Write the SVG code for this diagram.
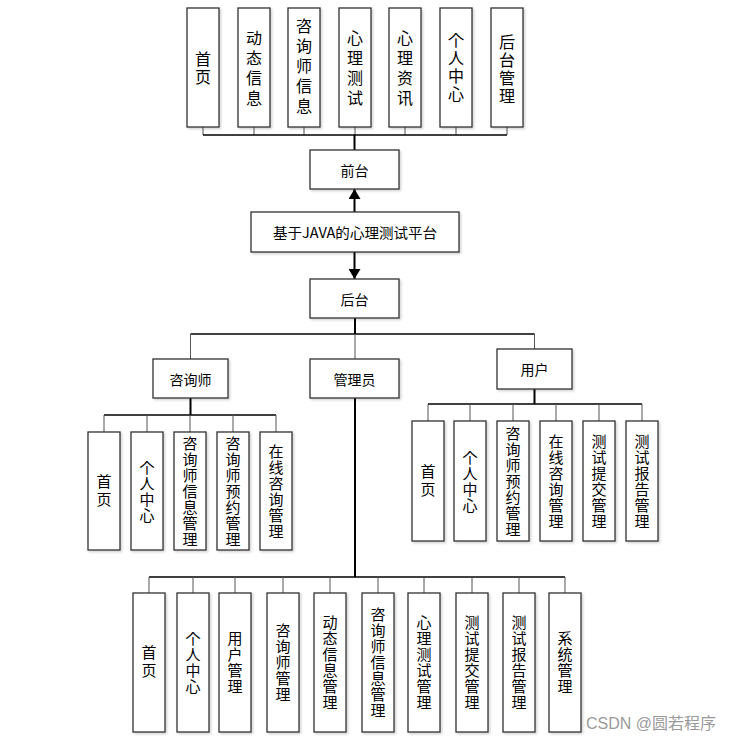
<svg xmlns="http://www.w3.org/2000/svg" width="738" height="741" viewBox="0 0 738 741">
<defs>
<filter id="sh" x="-20%" y="-20%" width="140%" height="140%"><feDropShadow dx="1.5" dy="1.5" stdDeviation="1" flood-color="#000" flood-opacity="0.18"/></filter>
<marker id="ah" markerWidth="10" markerHeight="12" refX="10" refY="6" orient="auto" markerUnits="userSpaceOnUse"><path d="M0,0 L10,6 L0,12 Z" fill="#000"/></marker>
<style>
.b{fill:#fff;stroke:#333;stroke-width:1.3;filter:url(#sh)}
.t{font-family:"Noto Sans CJK JP","Noto Sans CJK SC","Liberation Sans",sans-serif;fill:#000;text-anchor:middle;dominant-baseline:central}
.v{writing-mode:vertical-rl;text-orientation:upright}
.vt{font-size:16px;letter-spacing:4px}
.vt2{font-size:16px;letter-spacing:2px}
.vs{font-size:15px;letter-spacing:1px}
.vs2{font-size:15px;letter-spacing:3px}
.h{font-size:14px}
.stub{stroke:#555;stroke-width:1;fill:none}
.bus{stroke:#000;stroke-width:1.5;fill:none}
.main{stroke:#000;stroke-width:2;fill:none}
.wm{font-family:"Liberation Sans","Noto Sans CJK SC",sans-serif;font-size:16px;fill:#9a9a9a}
</style>
</defs>
<rect width="738" height="741" fill="#fff"/>

<g id="connectors">
<path class="stub" d="M203,127V135 M254,127V135 M304,127V135 M355,127V135 M405,127V135 M456,127V135 M507,127V135"/>
<path class="bus" d="M203,135H507"/>
<path class="main" d="M354.5,135V150"/>
<path class="main" d="M354.5,212V189" marker-end="url(#ah)"/>
<path class="main" d="M354.5,252V279" marker-end="url(#ah)"/>
<path class="main" d="M355,318V334"/>
<path class="bus" d="M190.5,334H534.5"/>
<path class="stub" d="M190.5,334V359 M355,334V359 M534.5,334V349"/>
<path class="main" d="M190.5,398V415"/>
<path class="bus" d="M104,415H276"/>
<path class="stub" d="M104,415V432 M147,415V432 M190,415V432 M233,415V432 M276,415V432"/>
<path class="main" d="M534.5,389V404"/>
<path class="bus" d="M428,404H642"/>
<path class="stub" d="M428,404V421 M470,404V421 M513,404V421 M556,404V421 M599,404V421 M642,404V421"/>
<path class="main" d="M355,398V577"/>
<path class="bus" d="M149,577H565"/>
<path class="stub" d="M149,577V593 M193,577V593 M235,577V593 M283,577V593 M330,577V593 M378,577V593 M424,577V593 M472,577V593 M519,577V593 M565,577V593"/>
</g>

<g id="f1"><rect class="b" x="187" y="8" width="32" height="119"/><text class="t v vt2" x="203" y="68.5">首页</text></g>
<g id="f2"><rect class="b" x="238" y="8" width="32" height="119"/><text class="t v vt" x="254" y="69.5">动态信息</text></g>
<g id="f3"><rect class="b" x="288" y="8" width="32" height="119"/><text class="t v vt" x="304" y="67.5">咨询师信息</text></g>
<g id="f4"><rect class="b" x="339" y="8" width="32" height="119"/><text class="t v vt" x="355" y="69.5">心理测试</text></g>
<g id="f5"><rect class="b" x="389" y="8" width="32" height="119"/><text class="t v vt" x="405" y="69.5">心理资讯</text></g>
<g id="f6"><rect class="b" x="440" y="8" width="32" height="119"/><text class="t v vt2" x="456" y="68">个人中心</text></g>
<g id="f7"><rect class="b" x="491" y="8" width="32" height="119"/><text class="t v vt2" x="507" y="70">后台管理</text></g>

<g id="qiantai"><rect class="b" x="310" y="150" width="89" height="39"/><text class="t h" x="354.5" y="169.5">前台</text></g>
<g id="platform"><rect class="b" x="251" y="212" width="208" height="40"/><text class="t h" x="355" y="232" textLength="164" lengthAdjust="spacingAndGlyphs">基于JAVA的心理测试平台</text></g>
<g id="houtai"><rect class="b" x="310" y="279" width="89" height="39"/><text class="t h" x="354.5" y="298.5">后台</text></g>

<g id="counselor"><rect class="b" x="153" y="359" width="75" height="39"/><text class="t h" x="190.5" y="378.5">咨询师</text></g>
<g id="admin"><rect class="b" x="310" y="359" width="89" height="39"/><text class="t h" x="354.5" y="378.5">管理员</text></g>
<g id="user"><rect class="b" x="497" y="349" width="75" height="40"/><text class="t h" x="534.5" y="369">用户</text></g>

<g id="c1"><rect class="b" x="88" y="432" width="32" height="118"/><text class="t v vs2" x="104" y="491.5">首页</text></g>
<g id="c2"><rect class="b" x="131" y="432" width="32" height="118"/><text class="t v vs" x="147" y="491.5">个人中心</text></g>
<g id="c3"><rect class="b" x="174" y="432" width="32" height="118"/><text class="t v vs" x="190" y="491.5">咨询师信息管理</text></g>
<g id="c4"><rect class="b" x="217" y="432" width="32" height="118"/><text class="t v vs" x="233" y="491.5">咨询师预约管理</text></g>
<g id="c5"><rect class="b" x="260" y="432" width="32" height="118"/><text class="t v vs" x="276" y="491.5">在线咨询管理</text></g>

<g id="u1"><rect class="b" x="412" y="421" width="32" height="120"/><text class="t v vs2" x="428" y="481.5">首页</text></g>
<g id="u2"><rect class="b" x="454" y="421" width="32" height="120"/><text class="t v vs" x="470" y="481.5">个人中心</text></g>
<g id="u3"><rect class="b" x="497" y="421" width="32" height="120"/><text class="t v vs" x="513" y="481.5">咨询师预约管理</text></g>
<g id="u4"><rect class="b" x="540" y="421" width="32" height="120"/><text class="t v vs" x="556" y="481.5">在线咨询管理</text></g>
<g id="u5"><rect class="b" x="583" y="421" width="32" height="120"/><text class="t v vs" x="599" y="481.5">测试提交管理</text></g>
<g id="u6"><rect class="b" x="626" y="421" width="32" height="120"/><text class="t v vs" x="642" y="481.5">测试报告管理</text></g>

<g id="a1"><rect class="b" x="133" y="593" width="32" height="139"/><text class="t v vs2" x="149" y="663">首页</text></g>
<g id="a2"><rect class="b" x="177" y="593" width="32" height="139"/><text class="t v vs" x="193" y="663">个人中心</text></g>
<g id="a3"><rect class="b" x="219" y="593" width="32" height="139"/><text class="t v vs" x="235" y="663">用户管理</text></g>
<g id="a4"><rect class="b" x="267" y="593" width="32" height="139"/><text class="t v vs" x="283" y="663">咨询师管理</text></g>
<g id="a5"><rect class="b" x="314" y="593" width="32" height="139"/><text class="t v vs" x="330" y="663">动态信息管理</text></g>
<g id="a6"><rect class="b" x="362" y="593" width="32" height="139"/><text class="t v vs" x="378" y="663">咨询师信息管理</text></g>
<g id="a7"><rect class="b" x="408" y="593" width="32" height="139"/><text class="t v vs" x="424" y="663">心理测试管理</text></g>
<g id="a8"><rect class="b" x="456" y="593" width="32" height="139"/><text class="t v vs" x="472" y="663">测试提交管理</text></g>
<g id="a9"><rect class="b" x="503" y="593" width="32" height="139"/><text class="t v vs" x="519" y="663">测试报告管理</text></g>
<g id="a10"><rect class="b" x="549" y="593" width="32" height="139"/><text class="t v vs" x="565" y="663">系统管理</text></g>

<text class="wm" x="586" y="729">CSDN @圆若程序</text>
</svg>
